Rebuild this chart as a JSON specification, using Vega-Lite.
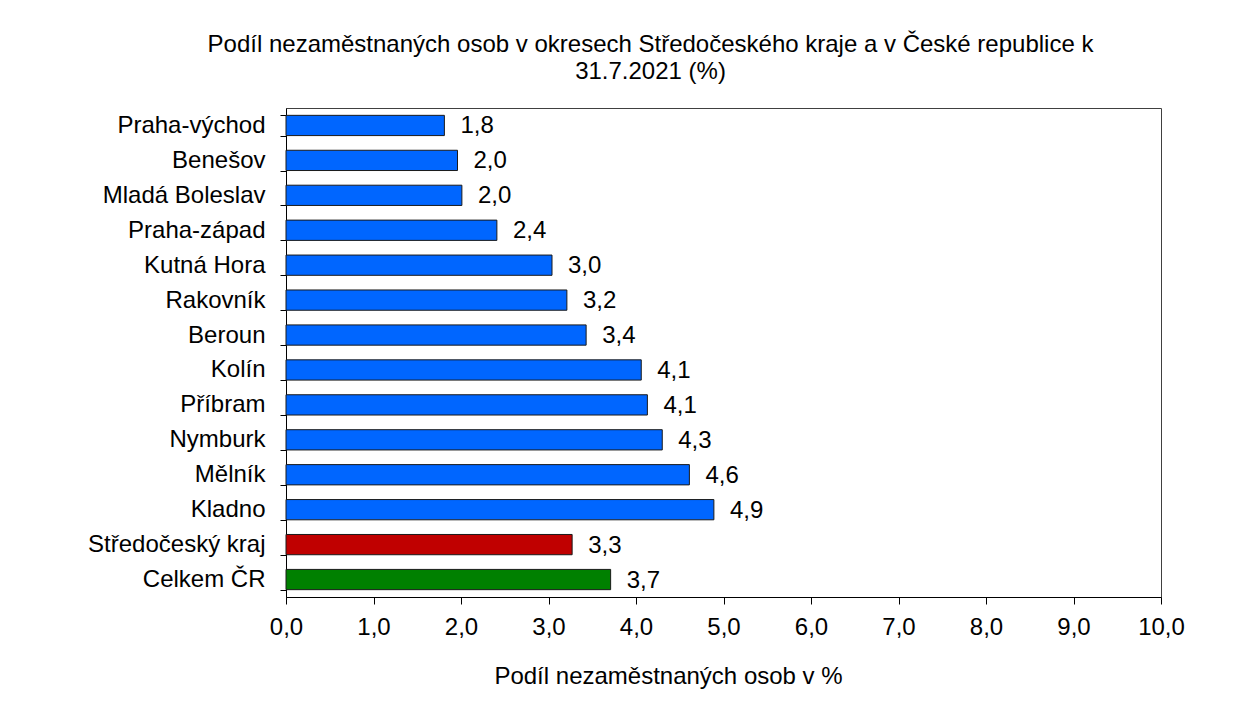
{
  "$schema": "https://vega.github.io/schema/vega-lite/v6.json",
  "autosize": "none",
  "width": 875,
  "height": 489,
  "padding": {"left": 286, "top": 108, "right": 85, "bottom": 129},
  "background": "white",
  "title": {
    "text": ["Podíl nezaměstnaných osob v okresech Středočeského kraje a v České republice k", "31.7.2021 (%)"],
    "anchor": "middle",
    "frame": "group",
    "dx": -73,
    "offset": 12,
    "font": "Liberation Sans",
    "fontSize": 24,
    "fontWeight": "normal",
    "lineHeight": 27,
    "color": "#000000"
  },
  "data": {
    "values": [
      {"okres": "Praha-východ", "podil": 1.81, "skupina": "okres"},
      {"okres": "Benešov", "podil": 1.96, "skupina": "okres"},
      {"okres": "Mladá Boleslav", "podil": 2.01, "skupina": "okres"},
      {"okres": "Praha-západ", "podil": 2.41, "skupina": "okres"},
      {"okres": "Kutná Hora", "podil": 3.04, "skupina": "okres"},
      {"okres": "Rakovník", "podil": 3.21, "skupina": "okres"},
      {"okres": "Beroun", "podil": 3.43, "skupina": "okres"},
      {"okres": "Kolín", "podil": 4.06, "skupina": "okres"},
      {"okres": "Příbram", "podil": 4.13, "skupina": "okres"},
      {"okres": "Nymburk", "podil": 4.3, "skupina": "okres"},
      {"okres": "Mělník", "podil": 4.61, "skupina": "okres"},
      {"okres": "Kladno", "podil": 4.89, "skupina": "okres"},
      {"okres": "Středočeský kraj", "podil": 3.27, "skupina": "kraj"},
      {"okres": "Celkem ČR", "podil": 3.71, "skupina": "ČR"}
    ]
  },
  "encoding": {
    "y": {
      "field": "okres",
      "type": "nominal",
      "sort": null,
      "scale": {"paddingInner": 0.42, "paddingOuter": 0.21},
      "axis": {
        "title": null,
        "tickBand": "extent",
        "tickSize": 6,
        "tickColor": "#000000",
        "domainColor": "#000000",
        "labelFont": "Liberation Sans",
        "labelFontSize": 24,
        "labelColor": "#000000",
        "labelPadding": 15,
        "labelLimit": 400
      }
    },
    "x": {
      "field": "podil",
      "type": "quantitative",
      "scale": {"domain": [0, 10], "nice": false},
      "axis": {
        "title": "Podíl nezaměstnaných osob v %",
        "format": ".1f",
        "values": [0, 1, 2, 3, 4, 5, 6, 7, 8, 9, 10],
        "grid": false,
        "tickSize": 7,
        "tickColor": "#000000",
        "domainColor": "#000000",
        "labelFont": "Liberation Sans",
        "labelFontSize": 24,
        "labelColor": "#000000",
        "labelPadding": 11,
        "labelFlush": false,
        "titleFont": "Liberation Sans",
        "titleFontSize": 24,
        "titleFontWeight": "normal",
        "titleColor": "#000000",
        "titleX": 382,
        "titleY": 86,
        "titleBaseline": "alphabetic",
        "titleAnchor": "middle"
      }
    }
  },
  "layer": [
    {
      "mark": {"type": "bar", "stroke": "#1a1a1a", "strokeWidth": 1},
      "encoding": {
        "color": {
          "field": "skupina",
          "type": "nominal",
          "scale": {"domain": ["okres", "kraj", "ČR"], "range": ["#0066FF", "#C00000", "#008000"]},
          "legend": null
        }
      }
    },
    {
      "mark": {"type": "text", "align": "left", "baseline": "middle", "dx": 16, "dy": 1, "font": "Liberation Sans", "fontSize": 24, "color": "#000000"},
      "encoding": {
        "text": {"field": "podil", "type": "quantitative", "format": ".1f"}
      }
    }
  ],
  "config": {
    "locale": {
      "number": {"decimal": ",", "thousands": " ", "grouping": [3], "currency": ["", " Kč"]}
    },
    "view": {"stroke": "#404040", "strokeWidth": 1}
  }
}
